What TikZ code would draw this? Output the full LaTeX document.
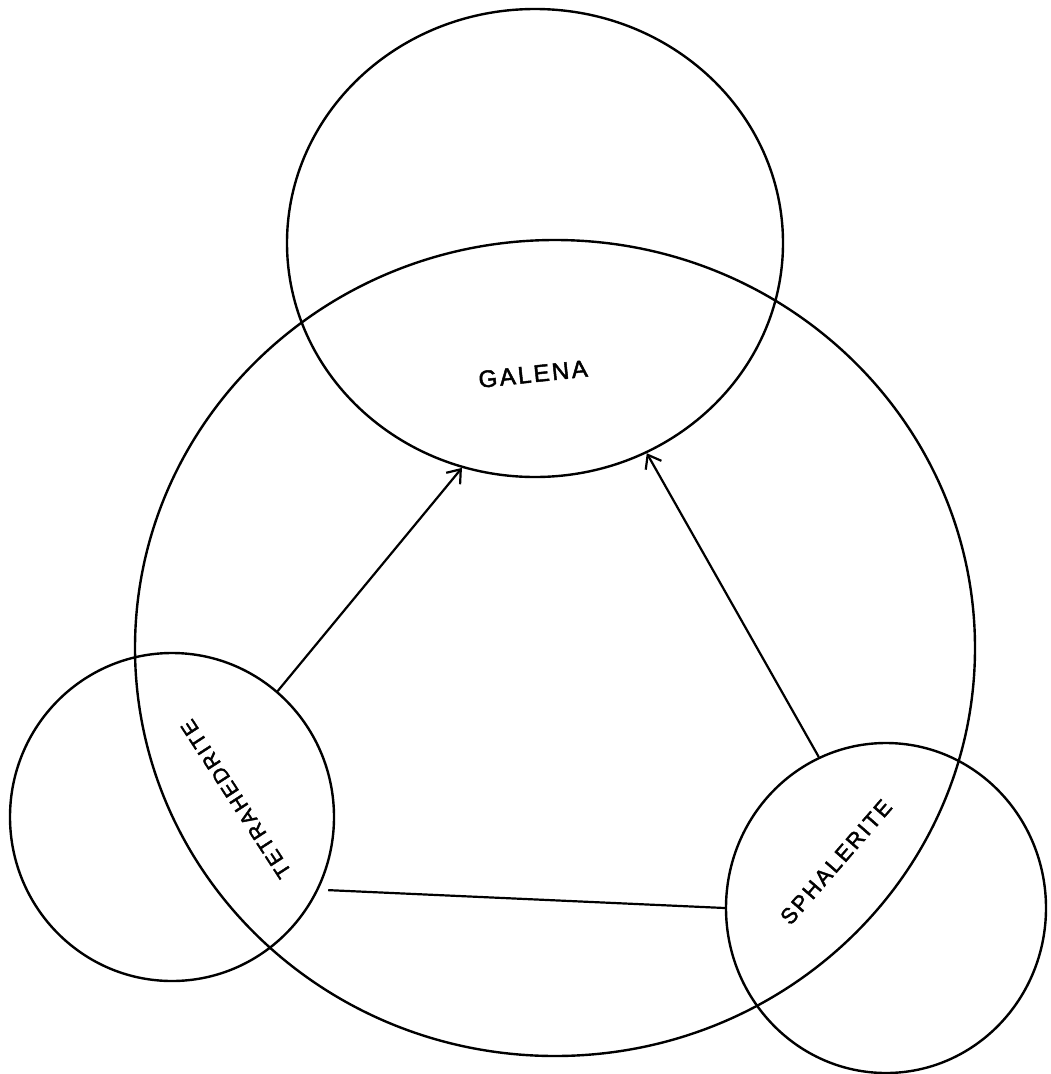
\documentclass[tikz,border=0pt]{standalone}
\usepackage{fontspec}
\setmainfont{Liberation Sans}
\newfontfamily\labelfont[LetterSpace=10,FakeBold=2]{Liberation Sans}
\usetikzlibrary{arrows.meta,shapes.geometric}
\begin{document}
\begin{tikzpicture}[x=1pt,y=-1pt,
  ring/.style={draw, ellipse, line width=2.4pt, inner sep=0pt},
  link/.style={line width=2.2pt},
  flow/.style={link, -{Straight Barb[length=12pt,width=18pt]}},
  lbl/.style={inner sep=0pt}]
\fill[white] (0,0) rectangle (1051,1074);
\useasboundingbox (0,0) rectangle (1051,1074);
\node[ring, minimum width=840pt, minimum height=816pt] (big) at (555,648) {};
\node[ring, minimum width=496pt, minimum height=468pt] (gal) at (535,243) {};
\node[ring, minimum width=324pt, minimum height=328pt] (tet) at (172,817) {};
\node[ring, minimum width=320pt, minimum height=330pt] (sph) at (886,908) {};
\node[lbl, rotate=6, font=\labelfont\fontsize{24}{24}\selectfont] (galt) at (533,374) {GALENA};
\node[lbl, rotate=123, font=\labelfont\fontsize{21}{21}\selectfont] (tett) at (236,799) {TETRAHEDRITE};
\node[lbl, rotate=49, font=\labelfont\fontsize{22}{22}\selectfont] (spht) at (836,862) {SPHALERITE};
\draw[flow] (tet.50) -- (gal.-108);
\draw[flow] (sph.114) -- (gal.-62.4);
\draw[link] ([shift={(8,4)}]tet.-25.5) -- (sph.180);
\end{tikzpicture}
\end{document}
